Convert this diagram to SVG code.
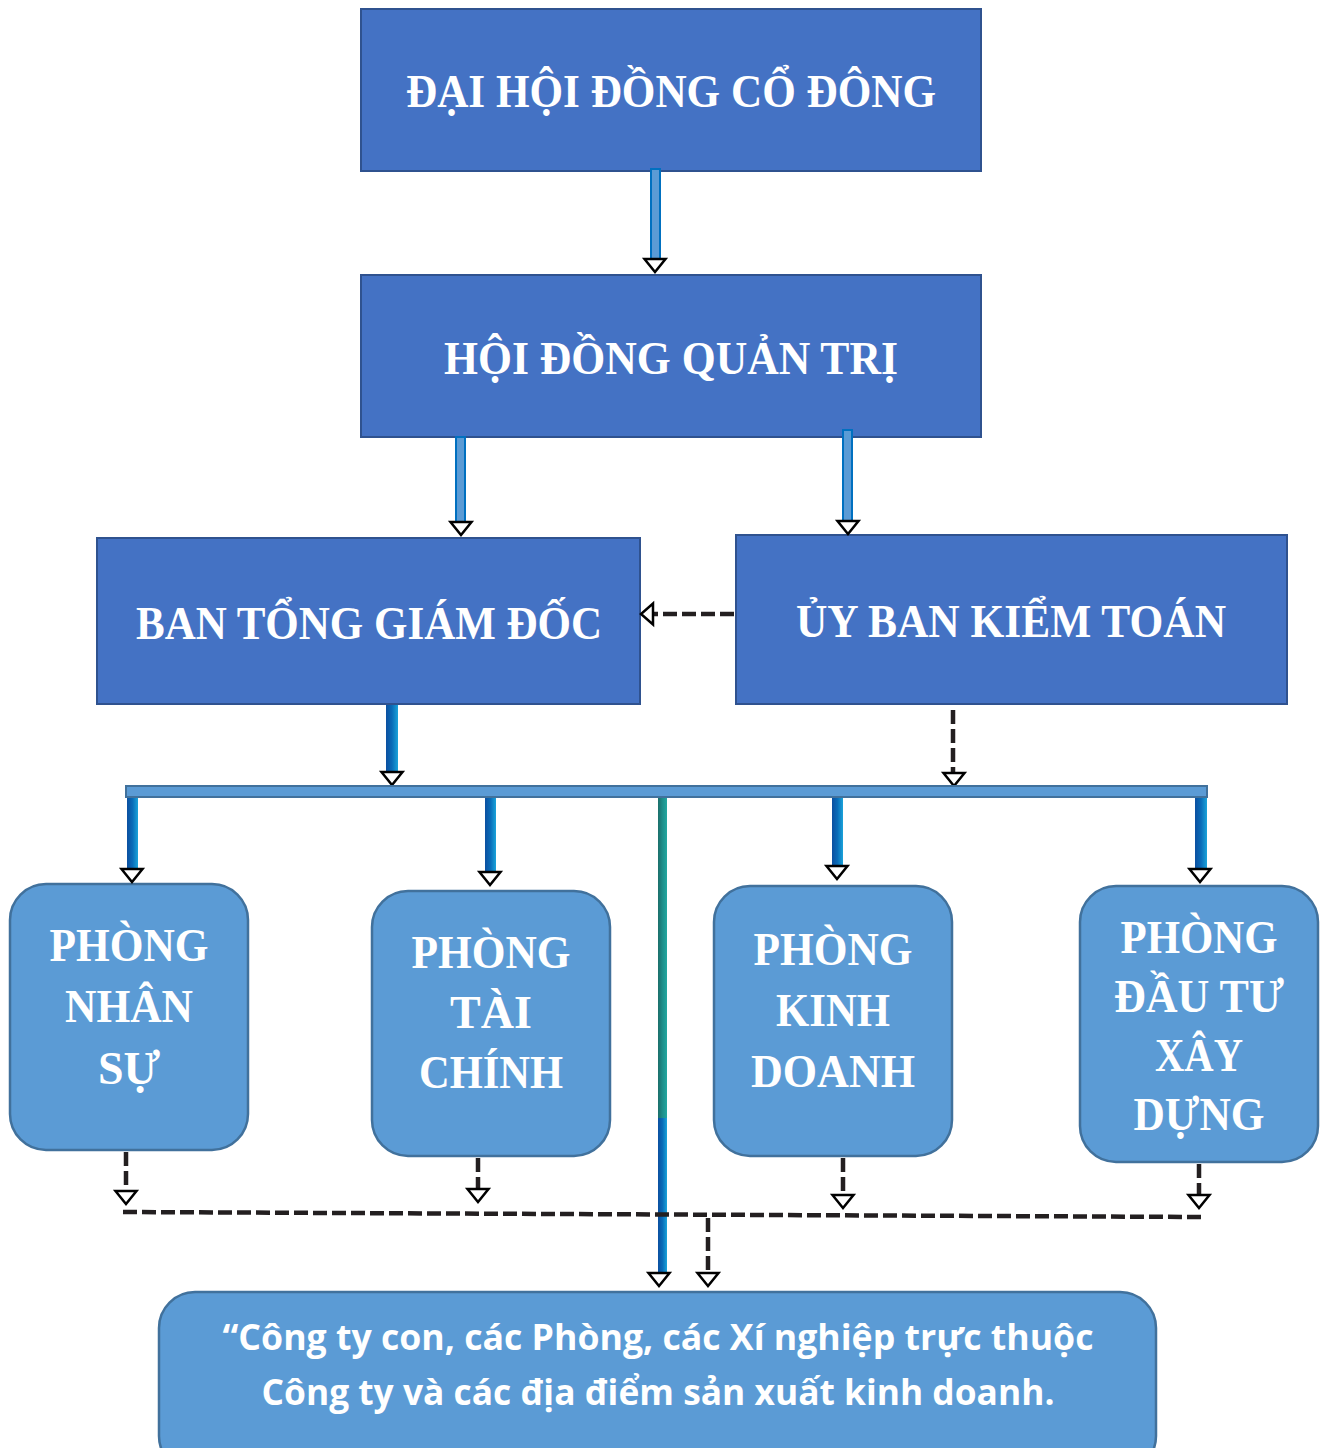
<svg xmlns="http://www.w3.org/2000/svg" width="1327" height="1448" viewBox="0 0 1327 1448">
<style>
.box{fill:#4472C4;stroke:#2F528F;stroke-width:2}
.rbox{fill:#5B9BD5;stroke:#41719C;stroke-width:2.5}
.t{font-family:"Liberation Serif",serif;font-weight:bold;fill:#fff;text-anchor:middle}
.tb{font-family:"Open Sans","Liberation Sans",sans-serif;font-weight:bold;fill:#fff;text-anchor:middle}
.bar1{fill:#5B9BD5;stroke:#0070C0;stroke-width:2}
.barg{fill:url(#g1)}
.dash{fill:none;stroke:#231F20;stroke-width:4.5;stroke-dasharray:14 5}
.head{fill:#fff;stroke:#000;stroke-width:2.5;stroke-linejoin:miter}
</style>
<defs>
<linearGradient id="g1" x1="0" y1="0" x2="1" y2="0">
<stop offset="0" stop-color="#0B4FA0"/>
<stop offset="0.5" stop-color="#0A6CB8"/>
<stop offset="1" stop-color="#1AA3DA"/>
</linearGradient>
<linearGradient id="g3" x1="0" y1="0" x2="1" y2="0">
<stop offset="0" stop-color="#1B6E6A"/>
<stop offset="0.5" stop-color="#1E8E8A"/>
<stop offset="1" stop-color="#22A8A0"/>
</linearGradient>
<path id="hd" d="M-10.5,0 L10.5,0 L0,13 Z"/>
<path id="hl" d="M12,-10.5 L12,10.5 L0,0 Z"/>
</defs>

<g id="n-dhdcd">
<rect class="box" x="361" y="9" width="620" height="162"/>
<text class="t" x="671" y="107" font-size="46" textLength="530" lengthAdjust="spacingAndGlyphs">ĐẠI HỘI ĐỒNG CỔ ĐÔNG</text>
</g>
<g id="n-hdqt">
<rect class="box" x="361" y="275" width="620" height="162"/>
<text class="t" x="671" y="374" font-size="46" textLength="454" lengthAdjust="spacingAndGlyphs">HỘI ĐỒNG QUẢN TRỊ</text>
</g>
<g id="n-btgd">
<rect class="box" x="97" y="538" width="543" height="166"/>
<text class="t" x="369" y="639" font-size="46" textLength="466" lengthAdjust="spacingAndGlyphs">BAN TỔNG GIÁM ĐỐC</text>
</g>
<g id="n-ubkt">
<rect class="box" x="736" y="535" width="551" height="169"/>
<text class="t" x="1011" y="637" font-size="46" textLength="430" lengthAdjust="spacingAndGlyphs">ỦY BAN KIỂM TOÁN</text>
</g>
<g id="n-pns">
<rect class="rbox" x="10" y="884" width="238" height="266" rx="36"/>
<text class="t" x="129" y="961" font-size="46" textLength="159" lengthAdjust="spacingAndGlyphs">PHÒNG</text>
<text class="t" x="129" y="1022" font-size="46" textLength="128" lengthAdjust="spacingAndGlyphs">NHÂN</text>
<text class="t" x="129" y="1084" font-size="46">SỰ</text>
</g>
<g id="n-ptc">
<rect class="rbox" x="372" y="891" width="238" height="265" rx="36"/>
<text class="t" x="491" y="968" font-size="46" textLength="159" lengthAdjust="spacingAndGlyphs">PHÒNG</text>
<text class="t" x="491" y="1028" font-size="46">TÀI</text>
<text class="t" x="491" y="1088" font-size="46" textLength="144" lengthAdjust="spacingAndGlyphs">CHÍNH</text>
</g>
<g id="n-pkd">
<rect class="rbox" x="714" y="886" width="238" height="270" rx="36"/>
<text class="t" x="833" y="965" font-size="46" textLength="159" lengthAdjust="spacingAndGlyphs">PHÒNG</text>
<text class="t" x="833" y="1026" font-size="46" textLength="114" lengthAdjust="spacingAndGlyphs">KINH</text>
<text class="t" x="833" y="1087" font-size="46" textLength="164" lengthAdjust="spacingAndGlyphs">DOANH</text>
</g>
<g id="n-pdtxd">
<rect class="rbox" x="1080" y="886" width="238" height="276" rx="36"/>
<text class="t" x="1199" y="953" font-size="46" textLength="157" lengthAdjust="spacingAndGlyphs">PHÒNG</text>
<text class="t" x="1199" y="1012" font-size="46" textLength="170" lengthAdjust="spacingAndGlyphs">ĐẦU TƯ</text>
<text class="t" x="1199" y="1071" font-size="46" textLength="88" lengthAdjust="spacingAndGlyphs">XÂY</text>
<text class="t" x="1199" y="1130" font-size="46" textLength="131" lengthAdjust="spacingAndGlyphs">DỰNG</text>
</g>
<g id="n-ctycon">
<rect class="rbox" x="159" y="1292" width="997" height="180" rx="36"/>
<text class="tb" x="658" y="1350" font-size="36" textLength="871" lengthAdjust="spacingAndGlyphs">“Công ty con, các Phòng, các Xí nghiệp trực thuộc</text>
<text class="tb" x="658" y="1405" font-size="36" textLength="793" lengthAdjust="spacingAndGlyphs">Công ty và các địa điểm sản xuất kinh doanh.</text>
</g>

<g id="connectors">
<rect class="bar1" x="651" y="169" width="9" height="92"/>
<use class="head" href="#hd" x="655" y="259"/>
<rect class="bar1" x="456" y="437" width="9" height="85"/>
<use class="head" href="#hd" x="461" y="522"/>
<rect class="bar1" x="843" y="430" width="9" height="91"/>
<use class="head" href="#hd" x="848" y="521"/>
<rect class="barg" x="386" y="705" width="12" height="68"/>
<use class="head" href="#hd" x="392" y="772"/>
<path class="dash" d="M734,614 H654"/>
<use class="head" href="#hl" x="641" y="614"/>
<path class="dash" d="M953,710 V774"/>
<use class="head" href="#hd" x="954" y="773"/>
<rect x="126" y="786" width="1081" height="11" fill="#5B9BD5" stroke="#41719C" stroke-width="2"/>
<rect class="barg" x="127" y="798" width="11" height="72"/>
<use class="head" href="#hd" x="132" y="869"/>
<rect class="barg" x="485" y="798" width="11" height="75"/>
<use class="head" href="#hd" x="490" y="872"/>
<rect class="barg" x="832" y="798" width="11" height="69"/>
<use class="head" href="#hd" x="837" y="866"/>
<rect class="barg" x="1195" y="798" width="12" height="72"/>
<use class="head" href="#hd" x="1200" y="869"/>
<rect x="658" y="798" width="9" height="320" fill="url(#g3)"/>
<rect class="barg" x="658" y="1118" width="9" height="157"/>
<use class="head" href="#hd" x="659" y="1273"/>
<path class="dash" d="M126,1152 V1190"/>
<use class="head" href="#hd" x="126" y="1191"/>
<path class="dash" d="M478,1158 V1188"/>
<use class="head" href="#hd" x="478" y="1189"/>
<path class="dash" d="M843,1158 V1194"/>
<use class="head" href="#hd" x="843" y="1195"/>
<path class="dash" d="M1199,1164 V1194"/>
<use class="head" href="#hd" x="1199" y="1195"/>
<path class="dash" d="M123,1212 L1205,1217"/>
<path class="dash" d="M708,1218 V1273"/>
<use class="head" href="#hd" x="708" y="1273"/>
</g>
</svg>
